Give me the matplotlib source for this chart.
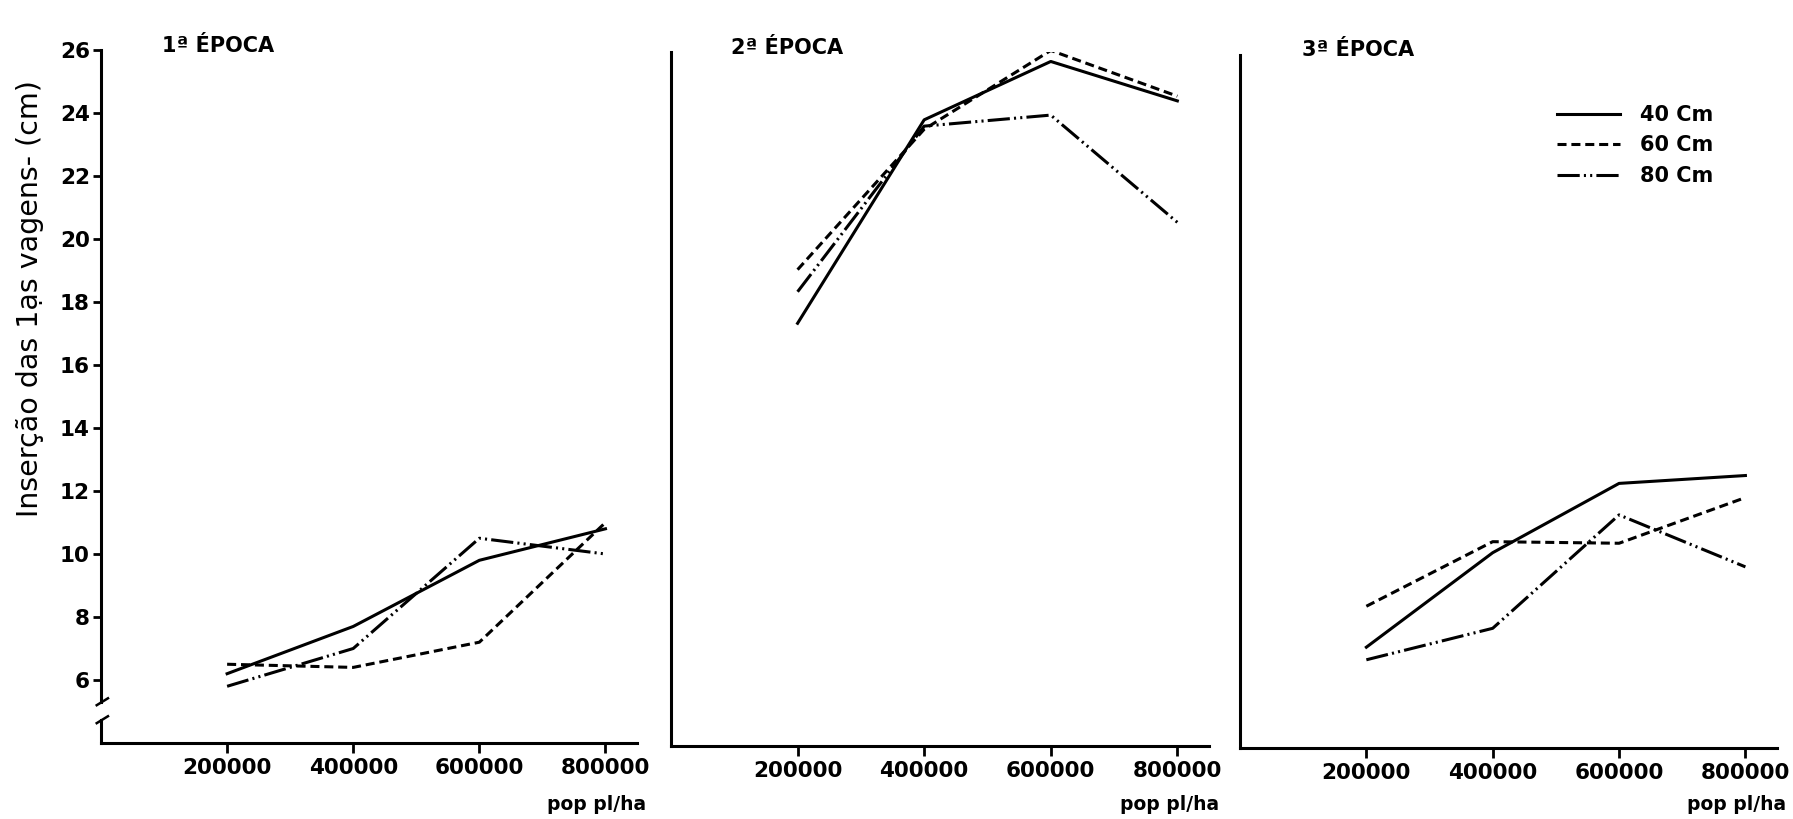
import matplotlib
matplotlib.use("Agg")
import matplotlib.pyplot as plt
from matplotlib.lines import Line2D

# ----------------------------------------------------------------------
# dados (insercao das 1as vagens, cm)
# ----------------------------------------------------------------------
pop = [200000, 400000, 600000, 800000]
epocas = ["1ª ÉPOCA", "2ª ÉPOCA", "3ª ÉPOCA"]
espac_labels = ["40 Cm", "60 Cm", "80 Cm"]
y_ticks = [6, 8, 10, 12, 14, 16, 18, 20, 22, 24, 26]

ep1_40 = [6.2, 7.7, 9.8, 10.8]
ep1_60 = [6.5, 6.4, 7.2, 11.0]
ep1_80 = [5.8, 7.0, 10.5, 10.0]

ep2_40 = [17.4, 23.85, 25.7, 24.45]
ep2_60 = [19.1, 23.55, 26.05, 24.6]
ep2_80 = [18.4, 23.65, 24.0, 20.6]

ep3_40 = [7.2, 10.2, 12.4, 12.65]
ep3_60 = [8.5, 10.55, 10.5, 11.95]
ep3_80 = [6.8, 7.8, 11.4, 9.75]

series = [
    [ep1_40, ep1_60, ep1_80],
    [ep2_40, ep2_60, ep2_80],
    [ep3_40, ep3_60, ep3_80],
]

# ----------------------------------------------------------------------
# estilo
# ----------------------------------------------------------------------
plt.rcParams['font.family'] = ['DejaVu Sans']
plt.rcParams['font.weight'] = 'bold'
plt.rcParams['lines.scale_dashes'] = False

W, H = 1793, 819
fig = plt.figure(figsize=(W / 100, H / 100), dpi=100)
fig.patch.set_facecolor("white")

styles = [
    dict(linestyle='-'),
    dict(dashes=(6.5, 3.5)),
    dict(dashes=(16, 3, 1.5, 3, 1.5, 3)),
]

# caixas dos paineis em pixels: esquerda, direita, topo, base
boxes = [(101, 637, 50, 743), (671, 1209, 52, 746), (1240, 1777, 55, 748)]
title_pos = [(162, 52), (731, 54), (1302, 56)]
poplabel_pos = [(646, 804), (1219, 804), (1786, 805)]

for i, (l, r, t, b) in enumerate(boxes):
    ax = fig.add_axes([l / W, 1 - b / H, (r - l) / W, (b - t) / H])
    for data, st in zip(series[i], styles):
        ax.plot(pop, data, color='black', linewidth=2.2, **st)
    ax.set_xlim(0, 850000)
    ax.set_ylim(4, 26)
    ax.set_xticks(pop)
    ax.set_xticklabels([str(p) for p in pop])
    ax.tick_params(axis='x', direction='out', length=7, width=2, labelsize=15.5, pad=4)
    for s in ['top', 'right']:
        ax.spines[s].set_visible(False)
    ax.spines['bottom'].set_linewidth(2.2)
    ax.spines['left'].set_linewidth(2.2)
    if i == 0:
        ax.set_yticks(y_ticks)
        ax.tick_params(axis='y', direction='out', length=6, width=2, labelsize=15.5, pad=2)
        # eixo y com quebra
        ax.spines['left'].set_visible(False)
        tr = ax.get_yaxis_transform()
        ax.plot([0, 0], [5.3, 26], color='black', linewidth=2.2, transform=tr, clip_on=False)
        ax.plot([0, 0], [4, 4.73], color='black', linewidth=2.2, transform=tr, clip_on=False)
        for yb in [5.3, 4.73]:
            ax.plot([-0.008, 0.013], [yb - 0.1, yb + 0.12], color='black',
                    linewidth=1.8, transform=tr, clip_on=False)
    else:
        ax.set_yticks([])

    tx, ty = title_pos[i]
    fig.text(tx / W, 1 - ty / H, epocas[i], fontsize=15, ha='left', va='baseline')
    px, py = poplabel_pos[i]
    fig.text(px / W, 1 - py / H, "pop pl/ha", fontsize=13.5, ha='right', va='center')

fig.text(30 / W, 1 - 299 / H, "Inserção das 1ạs vagens- (cm)", rotation=90,
         fontsize=20.5, fontweight='normal', ha='center', va='center')

handles = [Line2D([0], [0], color='black', linewidth=2.2, **st) for st in styles]
fig.legend(handles, espac_labels, loc='upper left',
           bbox_to_anchor=(1557 / W, 1 - 105 / H), frameon=False,
           fontsize=15, handlelength=3.0, handletextpad=1.0,
           labelspacing=0.5, borderpad=0, borderaxespad=0)

fig.savefig("out.png", dpi=100, facecolor="white")
